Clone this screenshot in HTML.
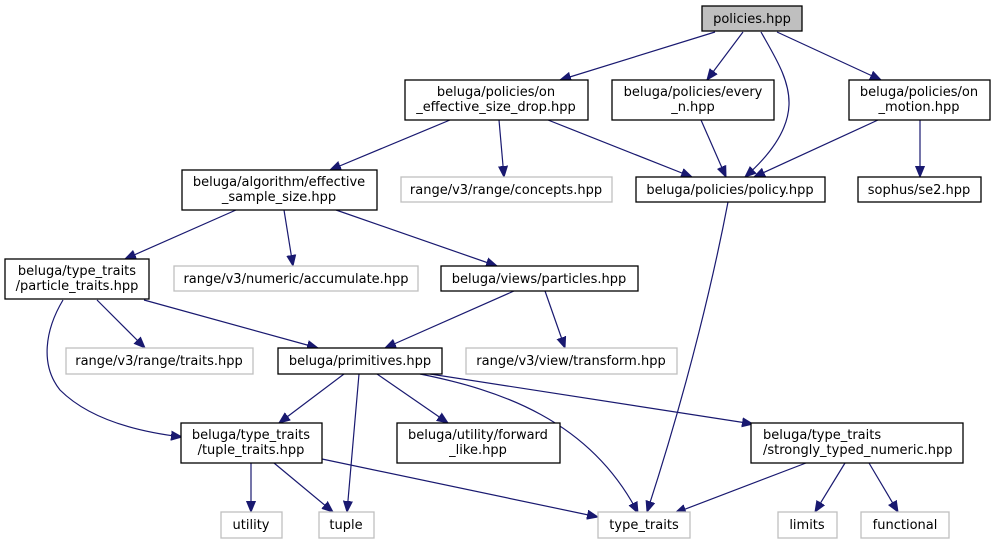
<!DOCTYPE html>
<html><head><meta charset="utf-8"><style>
html,body{margin:0;padding:0;background:#fff;}
svg{display:block;}
text{font-family:"DejaVu Sans","Liberation Sans",sans-serif;font-size:13px;fill:#000;}
.b{fill:#fff;stroke:#000;stroke-width:1.3;}
.g{fill:#fff;stroke:#bfbfbf;stroke-width:1.3;}
.e{fill:none;stroke:#191970;stroke-width:1.2;}
</style></head><body>
<svg width="995" height="544" viewBox="0 0 995 544" xmlns="http://www.w3.org/2000/svg">
<defs><marker id="a" markerUnits="userSpaceOnUse" markerWidth="12" markerHeight="10" refX="11" refY="5" orient="auto"><polygon points="0,0.5 11,5 0,9.5" fill="#191970" stroke="#191970"/></marker></defs>
<g marker-end="url(#a)">
<path class="e" d="M715,32 L560,80"/>
<path class="e" d="M743,32 L707,80"/>
<path class="e" d="M761,32 C775,57 790,80 789,105 C788,130 770,155 745,177"/>
<path class="e" d="M777,32 L881,80"/>
<path class="e" d="M499,120 L504,177"/>
<path class="e" d="M548,120 L692,177"/>
<path class="e" d="M701,120 L726,177"/>
<path class="e" d="M878,120 L754,177"/>
<path class="e" d="M920,120 L920,177"/>
<path class="e" d="M450,120 L330,170"/>
<path class="e" d="M236,210 L125,259"/>
<path class="e" d="M284,210 L293,266"/>
<path class="e" d="M336,210 L497,266"/>
<path class="e" d="M728,202 C715,270 690,380 647,512"/>
<path class="e" d="M97,300 L145,348"/>
<path class="e" d="M144,300 L318,348"/>
<path class="e" d="M63,300 C45,330 40,365 60,390 C90,420 140,432 182,437"/>
<path class="e" d="M514,291 L385,348"/>
<path class="e" d="M545,291 L565,348"/>
<path class="e" d="M344,374 L279,423"/>
<path class="e" d="M359,374 L347,512"/>
<path class="e" d="M377,374 L448,423"/>
<path class="e" d="M420,374 C500,390 590,420 638,513"/>
<path class="e" d="M430,374 L753,424"/>
<path class="e" d="M251,463 L251,512"/>
<path class="e" d="M274,463 L333,512"/>
<path class="e" d="M322,459 L598,517"/>
<path class="e" d="M806,463 L675,513"/>
<path class="e" d="M845,463 L815,512"/>
<path class="e" d="M869,463 L898,512"/>
</g>
<g text-anchor="middle">
<rect x="702" y="6" width="100" height="25" fill="#bfbfbf" stroke="#000" stroke-width="1.3"/><text x="752" y="23">policies.hpp</text>
<rect class="b" x="405" y="80" width="183" height="40"/><text x="496" y="96">beluga/policies/on</text><text x="496" y="111">_effective_size_drop.hpp</text>
<rect class="b" x="612" y="80" width="162" height="40"/><text x="693" y="96">beluga/policies/every</text><text x="693" y="111">_n.hpp</text>
<rect class="b" x="849" y="80" width="141" height="40"/><text x="919" y="96">beluga/policies/on</text><text x="919" y="111">_motion.hpp</text>
<rect class="g" x="401" y="177" width="211" height="25"/><text x="506" y="194">range/v3/range/concepts.hpp</text>
<rect class="b" x="636" y="177" width="189" height="25"/><text x="730" y="194">beluga/policies/policy.hpp</text>
<rect class="b" x="858" y="177" width="123" height="25"/><text x="919" y="194">sophus/se2.hpp</text>
<rect class="b" x="182" y="170" width="195" height="40"/><text x="279" y="186">beluga/algorithm/effective</text><text x="279" y="201">_sample_size.hpp</text>
<rect class="b" x="5" y="259" width="144" height="40"/><text x="77" y="275">beluga/type_traits</text><text x="77" y="290">/particle_traits.hpp</text>
<rect class="g" x="174" y="266" width="244" height="25"/><text x="296" y="283">range/v3/numeric/accumulate.hpp</text>
<rect class="b" x="441" y="266" width="197" height="25"/><text x="539" y="283">beluga/views/particles.hpp</text>
<rect class="g" x="66" y="348" width="187" height="26"/><text x="159" y="365">range/v3/range/traits.hpp</text>
<rect class="b" x="278" y="348" width="164" height="26"/><text x="360" y="365">beluga/primitives.hpp</text>
<rect class="g" x="466" y="348" width="211" height="26"/><text x="571" y="365">range/v3/view/transform.hpp</text>
<rect class="b" x="181" y="423" width="141" height="40"/><text x="251" y="439">beluga/type_traits</text><text x="251" y="454">/tuple_traits.hpp</text>
<rect class="b" x="397" y="423" width="163" height="40"/><text x="478" y="439">beluga/utility/forward</text><text x="478" y="454">_like.hpp</text>
<rect class="b" x="751" y="423" width="212" height="40"/><text x="763" y="439" text-anchor="start">beluga/type_traits</text><text x="763" y="454" text-anchor="start">/strongly_typed_numeric.hpp</text>
<rect class="g" x="221" y="512" width="61" height="26"/><text x="251" y="529">utility</text>
<rect class="g" x="319" y="512" width="55" height="26"/><text x="346" y="529">tuple</text>
<rect class="g" x="598" y="512" width="92" height="26"/><text x="644" y="529">type_traits</text>
<rect class="g" x="778" y="512" width="59" height="26"/><text x="807" y="529">limits</text>
<rect class="g" x="861" y="512" width="88" height="26"/><text x="905" y="529">functional</text>
</g>
</svg>
</body></html>
